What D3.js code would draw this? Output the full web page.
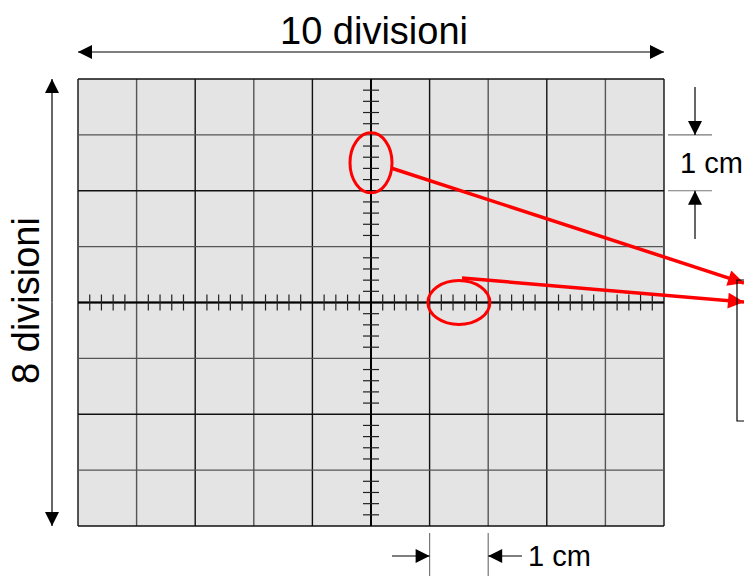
<!DOCTYPE html>
<html><head><meta charset="utf-8">
<script src="https://cdn.jsdelivr.net/npm/d3@7"></script>
<style>body{margin:0;background:#fff}text{font-family:Arial,"Liberation Sans",sans-serif}</style>
</head><body>
<script>
var xDivisions = d3.range(0, 11);      // 10 divisioni
var yDivisions = d3.range(0, 9);       // 8 divisioni
var minorTicks = d3.range(-5, 5.01, 0.2).filter(d => Math.abs(d - Math.round(d)) > 0.01);
var minorTicksY = d3.range(-4, 4.01, 0.2).filter(d => Math.abs(d - Math.round(d)) > 0.01);
var titleTop = "10 divisioni", titleLeft = "8 divisioni", unitLabel = "1 cm";

var width = 744, height = 587;
var svg = d3.select("body").append("svg").attr("width", width).attr("height", height);

var defs = svg.append("defs");
defs.append("marker").attr("id", "ab").attr("viewBox", "0 0 10 10").attr("refX", 10).attr("refY", 5)
  .attr("markerWidth", 15).attr("markerHeight", 14).attr("markerUnits", "userSpaceOnUse").attr("orient", "auto")
  .append("path").attr("d", "M0,0L10,5L0,10z").attr("fill", "#000");
defs.append("marker").attr("id", "ar").attr("viewBox", "0 0 10 10").attr("refX", 10).attr("refY", 5)
  .attr("markerWidth", 18).attr("markerHeight", 16).attr("markerUnits", "userSpaceOnUse").attr("orient", "auto")
  .append("path").attr("d", "M0,0L10,5L0,10z").attr("fill", "#f00");

var x = d3.scaleLinear().domain([0, 10]).range([78, 664]);
var y = d3.scaleLinear().domain([0, 8]).range([79, 526]);
var cx = d3.scaleLinear().domain([-5, 5]).range([78, 664]);
var cy = d3.scaleLinear().domain([4, -4]).range([79, 526]);

svg.append("rect").attr("x", x(0)).attr("y", y(0)).attr("width", x(10) - x(0)).attr("height", y(8) - y(0))
  .attr("fill", "#e4e4e4");

svg.selectAll(".vl").data(xDivisions).enter().append("line")
  .attr("x1", d => x(d)).attr("x2", d => x(d)).attr("y1", y(0)).attr("y2", y(8))
  .attr("stroke", d => d % 2 ? "#555" : "#111").attr("stroke-width", 1.4);
svg.selectAll(".hl").data(yDivisions).enter().append("line")
  .attr("y1", d => y(d)).attr("y2", d => y(d)).attr("x1", x(0)).attr("x2", x(10))
  .attr("stroke", d => d % 2 ? "#555" : "#111").attr("stroke-width", 1.4);

// central axes
svg.append("line").attr("x1", x(0)).attr("x2", x(10)).attr("y1", cy(0)).attr("y2", cy(0)).attr("stroke", "#000").attr("stroke-width", 2);
svg.append("line").attr("y1", y(0)).attr("y2", y(8)).attr("x1", cx(0)).attr("x2", cx(0)).attr("stroke", "#000").attr("stroke-width", 2);

svg.selectAll(".tx").data(minorTicks).enter().append("line")
  .attr("x1", d => cx(d)).attr("x2", d => cx(d)).attr("y1", cy(0) - 8).attr("y2", cy(0) + 8)
  .attr("stroke", "#222").attr("stroke-width", 1.2);
svg.selectAll(".ty").data(minorTicksY).enter().append("line")
  .attr("y1", d => cy(d)).attr("y2", d => cy(d)).attr("x1", cx(0) - 8).attr("x2", cx(0) + 8)
  .attr("stroke", "#222").attr("stroke-width", 1.2);

// dimension arrows
function arrow(x1, y1, x2, y2) {
  svg.append("line").attr("x1", x1).attr("y1", y1).attr("x2", x2).attr("y2", y2)
    .attr("stroke", "#000").attr("stroke-width", 1.2).attr("marker-end", "url(#ab)");
}
arrow(x(5), 52, x(0), 52); arrow(x(5), 52, x(10), 52);
arrow(52, y(4), 52, y(0)); arrow(52, y(4), 52, y(8));
svg.append("text").attr("x", x(5) + 3).attr("y", 44).attr("text-anchor", "middle").attr("font-size", 38).text(titleTop);
svg.append("text").attr("transform", "translate(39," + (y(4) - 2) + ") rotate(-90)").attr("text-anchor", "middle")
  .attr("font-size", 38).text(titleLeft);

// right 1 cm
[y(1), y(2)].forEach(v => svg.append("line").attr("x1", 668).attr("x2", 712).attr("y1", v).attr("y2", v).attr("stroke", "#777").attr("stroke-width", 1.2));
arrow(695, 87, 695, y(1)); arrow(695, 239, 695, y(2));
svg.append("text").attr("x", 680).attr("y", y(1.5) + 10).attr("font-size", 29).text(unitLabel);

// bottom 1 cm
[x(6), x(7)].forEach(v => svg.append("line").attr("x1", v).attr("x2", v).attr("y1", 533).attr("y2", 576).attr("stroke", "#777").attr("stroke-width", 1.2));
arrow(392, 556, x(6), 556); arrow(522, 556, x(7), 556);
svg.append("text").attr("x", 528).attr("y", 566).attr("font-size", 29).text(unitLabel);

// red highlights
svg.append("ellipse").attr("cx", cx(0)).attr("cy", cy(2.5)).attr("rx", 21).attr("ry", 30)
  .attr("fill", "none").attr("stroke", "#f00").attr("stroke-width", 3);
svg.append("ellipse").attr("cx", cx(1.5)).attr("cy", cy(0)).attr("rx", 31).attr("ry", 22)
  .attr("fill", "none").attr("stroke", "#f00").attr("stroke-width", 3);
svg.append("line").attr("x1", 391).attr("y1", 168).attr("x2", 744).attr("y2", 283)
  .attr("stroke", "#f00").attr("stroke-width", 3.5).attr("marker-end", "url(#ar)");
svg.append("line").attr("x1", 462).attr("y1", 278).attr("x2", 744).attr("y2", 302)
  .attr("stroke", "#f00").attr("stroke-width", 3.5).attr("marker-end", "url(#ar)");
svg.append("path").attr("d", "M744,280H737V421H744").attr("fill", "none").attr("stroke", "#000").attr("stroke-width", 1.2);
</script>
</body></html>
